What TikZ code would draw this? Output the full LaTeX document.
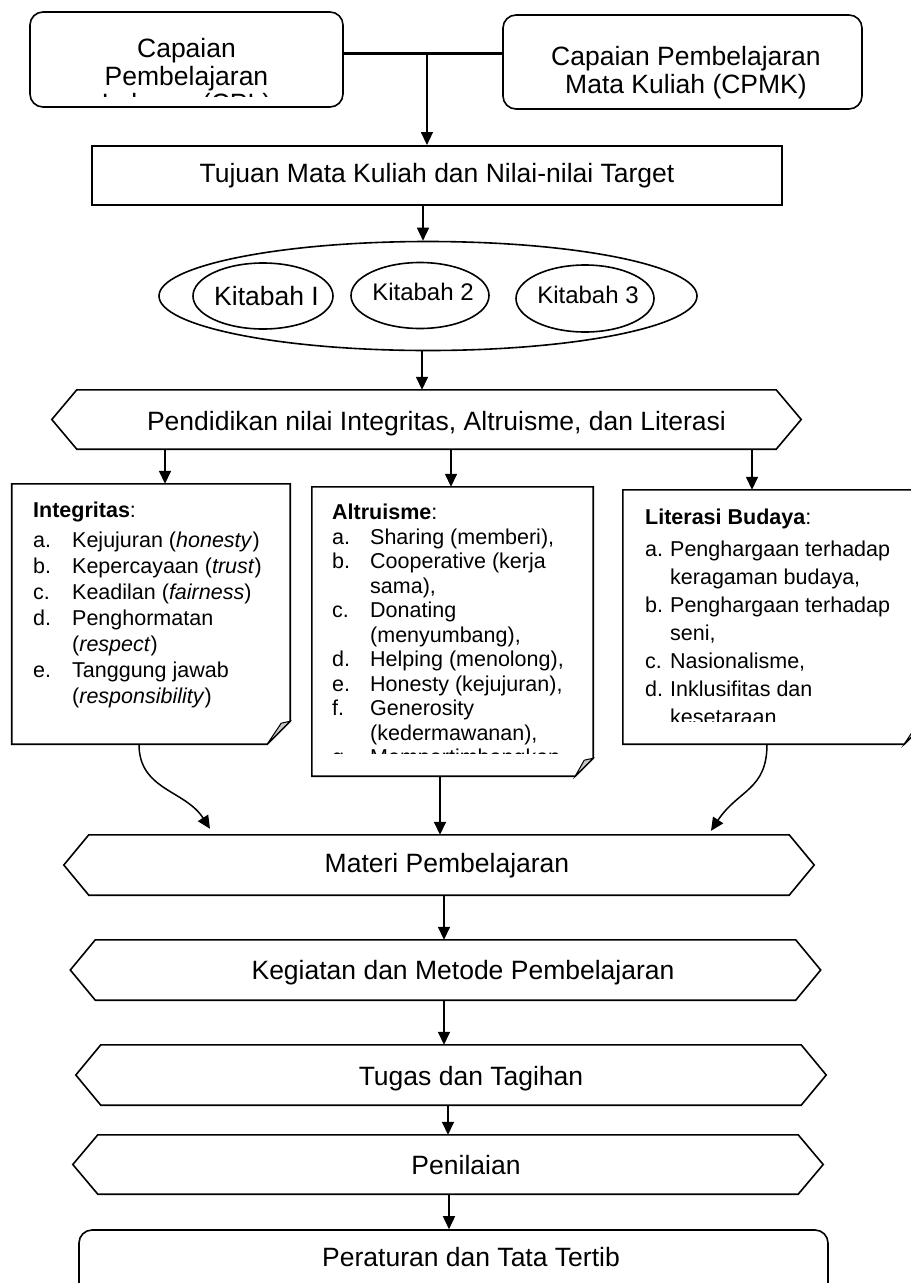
\documentclass[tikz,border=0pt]{standalone}
\usepackage{fontspec}
\setmainfont{Liberation Sans}
\usetikzlibrary{arrows.meta,calc,shapes.geometric}
\tikzset{
  bigf/.style={font=\fontsize{26.5bp}{30bp}\selectfont},
  midf/.style={font=\fontsize{24bp}{28bp}\selectfont},
  smallf/.style={font=\fontsize{21.5bp}{25bp}\selectfont},
  txt/.style={inner sep=0pt, anchor=base},
  ltxt/.style={inner sep=0pt, anchor=base west, smallf},
  body/.style={inner sep=0pt, rectangle},
  ln/.style={line width=1.6bp, line join=miter},
  arr/.style={line width=1.5bp, -{Triangle[width=12bp,length=13bp]}},
}
\newcommand\hexdraw[1]{\draw[ln] (#1.north west) -- (#1.north east) -- ([xshift=25bp]#1.east) -- (#1.south east) -- (#1.south west) -- ([xshift=-25bp]#1.west) -- cycle;}
\newcommand\notedraw[2]{%
  \draw[ln] (#1.north west) -- (#1.north east) -- ([yshift=#2bp]#1.south east) -- ([xshift=-#2bp]#1.south east) -- (#1.south west) -- cycle;
  \filldraw[line width=1bp, fill=gray!45] ([xshift=-#2bp]#1.south east) -- ([yshift=#2bp]#1.south east) .. controls ([xshift=-4bp,yshift={#2bp-0.5bp}]#1.south east) .. ([xshift=-9bp,yshift={#2bp-2bp}]#1.south east) -- cycle;}
\begin{document}
\begin{tikzpicture}[x=1bp,y=-1bp]
\clip (0,0) rectangle (911,1283);
\fill[white] (0,0) rectangle (911,1283);

% ---- top boxes
\node[body, draw, ln, rounded corners=13bp, minimum width=313bp, minimum height=95bp] (cpl) at (186.5,59.5) {};
\begin{scope}
  \clip (32,14) rectangle (341,96);
  \node[txt,bigf] (cplA) at (186.5,57) {Capaian};
  \node[txt,bigf] (cplB) at (186.5,85) {Pembelajaran};
  \node[txt,bigf] (cplC) at (186.5,112) {Lulusan (CPL)};
\end{scope}
\node[body, draw, ln, rounded corners=13bp, minimum width=359bp, minimum height=94bp] (cpmk) at (682.5,62) {};
\node[txt,bigf] (cpmkA) at (686,65) {Capaian Pembelajaran};
\node[txt,bigf] (cpmkB) at (686,93) {Mata Kuliah (CPMK)};

\node[body, draw, line width=2bp, minimum width=690bp, minimum height=59bp] (tujuan) at (437,175.5) {};
\node[txt,bigf] (tujA) at (437,182) {Tujuan Mata Kuliah dan Nilai-nilai Target};

\coordinate (cplR) at ([yshift=6.5bp]cpl.east);
\draw[line width=3bp] (cplR) -- (cplR -| cpmk.west);
\coordinate (join) at ($(cplR)!0.525!(cplR -| cpmk.west)$);
\draw[arr] (join) -- (join |- tujuan.north);

% ---- ellipses
\node[ellipse, draw, ln, inner sep=0pt, minimum width=538bp, minimum height=109bp] (big) at (428,296) {};
\node[ellipse, draw, ln, inner sep=0pt, minimum width=140bp, minimum height=66bp] (k1) at (263,296) {};
\node[ellipse, draw, ln, inner sep=0pt, minimum width=138bp, minimum height=66bp] (k2) at (420,295.5) {};
\node[ellipse, draw, ln, inner sep=0pt, minimum width=138bp, minimum height=67bp] (k3) at (585,298.5) {};
\node[txt,bigf] (k1t) at (266.5,305) {Kitabah I};
\node[txt,midf] (k2t) at (423,300) {Kitabah 2};
\node[txt,midf] (k3t) at (588,303) {Kitabah 3};

\coordinate (aT) at ([xshift=-14bp]tujuan.south);
\draw[arr] (aT) -- (aT |- big.north);

% ---- Pendidikan
\node[body, minimum width=699bp, minimum height=59bp] (pend) at (426.5,419.5) {};
\hexdraw{pend}
\node[txt,bigf] (pendt) at (436.5,430) {Pendidikan nilai Integritas, Altruisme, dan Literasi};
\coordinate (aB) at ([xshift=-6bp]big.south);
\draw[arr] (aB) -- (aB |- pend.north);

% ---- notes
\node[body, minimum width=278bp, minimum height=260bp] (noteI) at (151,614) {};
\notedraw{noteI}{23}
\node[body, minimum width=281bp, minimum height=289bp] (noteA) at (452.5,631.5) {};
\notedraw{noteA}{18}
\node[body, minimum width=303bp, minimum height=254bp] (noteL) at (774.5,617) {};
\notedraw{noteL}{22}

\coordinate (pI) at ([xshift=14bp]noteI.north);
\coordinate (pA) at ([xshift=-1.5bp]noteA.north);
\coordinate (pL) at ([xshift=-22.5bp]noteL.north);
\draw[arr] (pI |- pend.south) -- (pI);
\draw[arr] (pA |- pend.south) -- (pA);
\draw[arr] (pL |- pend.south) -- (pL);

% Integritas text
\node[ltxt] (iH) at (33,517) {\textbf{Integritas}:};
\node[ltxt] (iaL) at (33,547) {a.};  \node[ltxt] (ia) at (72,547) {Kejujuran (\textit{honesty})};
\node[ltxt] (ibL) at (33,573) {b.};  \node[ltxt] (ib) at (72,573) {Kepercayaan (\textit{trust})};
\node[ltxt] (icL) at (33,599) {c.};  \node[ltxt] (ic) at (72,599) {Keadilan (\textit{fairness})};
\node[ltxt] (idL) at (33,625) {d.};  \node[ltxt] (id) at (72,625) {Penghormatan};
\node[ltxt] (id2) at (72,651) {(\textit{respect})};
\node[ltxt] (ieL) at (33,677) {e.};  \node[ltxt] (ie) at (72,677) {Tanggung jawab};
\node[ltxt] (ie2) at (72,703) {(\textit{responsibility})};

% Altruisme text
\begin{scope}
  \clip (312,487) rectangle (593,753);
  \node[ltxt] (aH) at (332,519) {\textbf{Altruisme}:};
  \node[ltxt] (aaL) at (332,544) {a.}; \node[ltxt] (aa) at (370,544) {Sharing (memberi),};
  \node[ltxt] (abL) at (332,568.5) {b.}; \node[ltxt] (ab) at (370,568.5) {Cooperative (kerja};
  \node[ltxt] (ab2) at (370,593) {sama),};
  \node[ltxt] (acL) at (332,617.5) {c.}; \node[ltxt] (ac) at (370,617.5) {Donating};
  \node[ltxt] (ac2) at (370,642) {(menyumbang),};
  \node[ltxt] (adL) at (332,666.5) {d.}; \node[ltxt] (ad) at (370,666.5) {Helping (menolong),};
  \node[ltxt] (aeL) at (332,691) {e.}; \node[ltxt] (ae) at (370,691) {Honesty (kejujuran),};
  \node[ltxt] (afL) at (332,715.5) {f.}; \node[ltxt] (af) at (370,715.5) {Generosity};
  \node[ltxt] (af2) at (370,740) {(kedermawanan),};
  \node[ltxt] (agL) at (332,764.5) {g.}; \node[ltxt] (ag) at (370,764.5) {Mempertimbangkan};
\end{scope}

% Literasi text
\begin{scope}
  \clip (623,490) rectangle (911,721.5);
  \node[ltxt] (lH) at (645,524) {\textbf{Literasi Budaya}:};
  \node[ltxt] (laL) at (645,556) {a.}; \node[ltxt] (la) at (670,556) {Penghargaan terhadap};
  \node[ltxt] (la2) at (670,584) {keragaman budaya,};
  \node[ltxt] (lbL) at (645,612) {b.}; \node[ltxt] (lb) at (670,612) {Penghargaan terhadap};
  \node[ltxt] (lb2) at (670,640) {seni,};
  \node[ltxt] (lcL) at (645,668) {c.}; \node[ltxt] (lc) at (670,668) {Nasionalisme,};
  \node[ltxt] (ldL) at (645,696) {d.}; \node[ltxt] (ld) at (670,696) {Inklusifitas dan};
  \node[ltxt] (ld2) at (670,724) {kesetaraan};
\end{scope}

% ---- bottom chain
\node[body, minimum width=700bp, minimum height=60bp] (materi) at (439,865) {};
\hexdraw{materi}
\node[txt,bigf] (materit) at (447,872) {Materi Pembelajaran};
\node[body, minimum width=700bp, minimum height=60bp] (kegiatan) at (445.5,970) {};
\hexdraw{kegiatan}
\node[txt,bigf] (kegiatant) at (463,979) {Kegiatan dan Metode Pembelajaran};
\node[body, minimum width=700bp, minimum height=60bp] (tugas) at (451,1075) {};
\hexdraw{tugas}
\node[txt,bigf] (tugast) at (471,1085) {Tugas dan Tagihan};
\node[body, minimum width=700bp, minimum height=59bp] (penilaian) at (448,1164.5) {};
\hexdraw{penilaian}
\node[txt,bigf] (penilaiant) at (466,1174) {Penilaian};
\node[body, draw, ln, rounded corners=13bp, minimum width=749bp, minimum height=100bp] (peraturan) at (453.5,1280) {};
\node[txt,bigf] (peraturant) at (471,1266) {Peraturan dan Tata Tertib};

% connectors notes -> materi
\coordinate (sI) at ([xshift=-12bp]noteI.south);
\coordinate (eI) at ([xshift=-229bp,yshift=6bp]materi.north);
\draw[arr] (sI) .. controls +(0,46) and +(-25,-39) .. (eI);
\coordinate (sA) at ([xshift=-12.5bp]noteA.south);
\draw[arr] (sA) -- (sA |- materi.north);
\coordinate (sL) at ([xshift=-7.5bp]noteL.south);
\coordinate (eL) at ([xshift=272bp,yshift=4bp]materi.north);
\draw[arr] (sL) .. controls +(0,46) and +(27,-41) .. (eL);

\coordinate (m1) at ([xshift=5bp]materi.south);
\draw[arr] (m1) -- (m1 |- kegiatan.north);
\coordinate (m2) at ([xshift=-1.5bp]kegiatan.south);
\draw[arr] (m2) -- (m2 |- tugas.north);
\coordinate (m3) at ([xshift=-3bp]tugas.south);
\draw[arr] (m3) -- (m3 |- penilaian.north);
\coordinate (m4) at ([xshift=1bp]penilaian.south);
\draw[arr] (m4) -- (m4 |- peraturan.north);
\end{tikzpicture}
\end{document}
